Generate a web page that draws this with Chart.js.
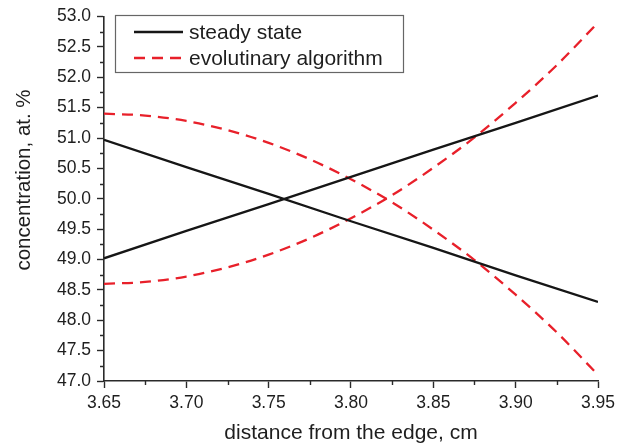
<!DOCTYPE html>
<html>
<head>
<meta charset="utf-8">
<script src="https://cdn.jsdelivr.net/npm/chart.js@4.4.1/dist/chart.umd.min.js"></script>
<style>
  html, body { margin: 0; padding: 0; background: #fff; }
  canvas { display: block; }
</style>
</head>
<body>
<canvas id="concChart" width="631" height="447"></canvas>
<script>
// values
const xSteady = [3.65, 3.70, 3.75, 3.80, 3.85, 3.90, 3.95];
const steadyDown = [50.97, 50.52, 50.08, 49.63, 49.19, 48.74, 48.30];
const steadyUp = [49.02, 49.47, 49.91, 50.36, 50.81, 51.25, 51.70];

const xEvo = [3.65, 3.675, 3.70, 3.725, 3.75, 3.775, 3.80, 3.825, 3.85, 3.875, 3.90, 3.925, 3.95];
const evoDown = [51.40, 51.37, 51.28, 51.13, 50.92, 50.65, 50.32, 49.94, 49.49, 48.99, 48.42, 47.80, 47.10];
const evoUp = [48.60, 48.63, 48.72, 48.87, 49.08, 49.35, 49.68, 50.06, 50.51, 51.01, 51.58, 52.20, 52.90];

const xTicks = [3.65, 3.70, 3.75, 3.80, 3.85, 3.90, 3.95];
const yTicks = [47.0, 47.5, 48.0, 48.5, 49.0, 49.5, 50.0, 50.5, 51.0, 51.5, 52.0, 52.5, 53.0];

const seriesLabels = ['steady state', 'evolutinary algorithm'];

const BLACK = '#161616';
const RED = '#e8202a';
const AXIS = '#2a2a2a';
const TEXT = '#1e1e1e';
const FONT = "'Liberation Sans', Arial, sans-serif";

function pts(xs, ys) {
    return xs.map((x, i) => ({ x: x, y: ys[i] }));
}

// minor ticks halfway between the major ones
const minorTicks = {
    id: 'minorTicks',
    afterDraw(chart) {
        const ctx = chart.ctx;
        const area = chart.chartArea;
        const xs = chart.scales.x, ys = chart.scales.y;
        ctx.save();
        ctx.strokeStyle = AXIS;
        ctx.lineWidth = 1.4;
        ctx.beginPath();
        for (let i = 0; i < xTicks.length - 1; i++) {
            const px = Math.round(xs.getPixelForValue((xTicks[i] + xTicks[i + 1]) / 2)) + 0.5;
            ctx.moveTo(px, area.bottom);
            ctx.lineTo(px, area.bottom + 4);
        }
        for (let i = 0; i < yTicks.length - 1; i++) {
            const py = Math.round(ys.getPixelForValue((yTicks[i] + yTicks[i + 1]) / 2)) + 0.5;
            ctx.moveTo(area.left, py);
            ctx.lineTo(area.left - 4, py);
        }
        ctx.stroke();
        ctx.restore();
    }
};

// rotated y title, sitting a bit above the middle like the original
const yTitle = {
    id: 'yTitle',
    afterDraw(chart) {
        const ctx = chart.ctx;
        ctx.save();
        ctx.translate(24, 180);
        ctx.rotate(-Math.PI / 2);
        ctx.font = '20.5px ' + FONT;
        ctx.fillStyle = TEXT;
        ctx.textAlign = 'center';
        ctx.textBaseline = 'middle';
        ctx.fillText('concentration, at. %', 0, 0);
        ctx.restore();
    }
};

// boxed legend inside the plot, upper left
const boxLegend = {
    id: 'boxLegend',
    afterDraw(chart) {
        const ctx = chart.ctx;
        const ds = chart.data.datasets;
        const entries = [ds[0], ds[2]];
        ctx.save();
        ctx.fillStyle = '#fff';
        ctx.fillRect(115.5, 15.5, 288, 57);
        ctx.strokeStyle = '#666';
        ctx.lineWidth = 1.2;
        ctx.strokeRect(115.5, 15.5, 288, 57);
        ctx.font = '21px ' + FONT;
        ctx.textBaseline = 'middle';
        entries.forEach((d, i) => {
            const y = 32 + i * 26;
            ctx.strokeStyle = d.borderColor;
            ctx.lineWidth = d.borderWidth;
            ctx.setLineDash(d.borderDash || []);
            ctx.beginPath();
            ctx.moveTo(134, y);
            ctx.lineTo(183, y);
            ctx.stroke();
            ctx.setLineDash([]);
            ctx.fillStyle = TEXT;
            ctx.fillText(d.label, 189, y + 1);
        });
        ctx.restore();
    }
};

const lineStyle = { pointRadius: 0, fill: false, borderWidth: 2.3 };

new Chart(document.getElementById('concChart').getContext('2d'), {
    type: 'line',
    data: {
        datasets: [
            Object.assign({ label: seriesLabels[0], data: pts(xSteady, steadyDown), borderColor: BLACK, tension: 0 }, lineStyle),
            Object.assign({ label: seriesLabels[0], data: pts(xSteady, steadyUp), borderColor: BLACK, tension: 0 }, lineStyle),
            Object.assign({ label: seriesLabels[1], data: pts(xEvo, evoDown), borderColor: RED, borderDash: [11, 7], cubicInterpolationMode: 'monotone' }, lineStyle),
            Object.assign({ label: seriesLabels[1], data: pts(xEvo, evoUp), borderColor: RED, borderDash: [11, 7], cubicInterpolationMode: 'monotone' }, lineStyle)
        ]
    },
    options: {
        responsive: false,
        animation: false,
        layout: { padding: { left: 0, right: 33, top: 16, bottom: 0 } },
        plugins: {
            legend: { display: false },
            tooltip: { enabled: false }
        },
        scales: {
            x: {
                type: 'linear',
                min: 3.65,
                max: 3.95,
                afterBuildTicks: function(scale) {
                    scale.ticks = xTicks.map(v => ({ value: v }));
                },
                afterFit: function(scale) { scale.height = 66; },
                border: { display: true, color: AXIS, width: 1.6 },
                grid: { drawOnChartArea: false, drawTicks: true, tickLength: 7, tickColor: AXIS, tickWidth: 1.4 },
                ticks: {
                    autoSkip: false,
                    maxRotation: 0,
                    padding: 5,
                    color: TEXT,
                    font: { family: FONT, size: 17.5 },
                    callback: function(value) { return Number(value).toFixed(2); }
                },
                title: {
                    display: true,
                    text: 'distance from the edge, cm',
                    color: TEXT,
                    font: { family: FONT, size: 21 },
                    padding: { top: 0, bottom: 1 }
                }
            },
            y: {
                type: 'linear',
                min: 47,
                max: 53,
                afterBuildTicks: function(scale) {
                    scale.ticks = yTicks.map(v => ({ value: v }));
                },
                afterFit: function(scale) { scale.width = 104; },
                border: { display: true, color: AXIS, width: 1.6 },
                grid: { drawOnChartArea: false, drawTicks: true, tickLength: 7, tickColor: AXIS, tickWidth: 1.4 },
                ticks: {
                    autoSkip: false,
                    padding: 6,
                    color: TEXT,
                    font: { family: FONT, size: 17.5 },
                    callback: function(value) { return Number(value).toFixed(1); }
                }
            }
        }
    },
    plugins: [minorTicks, yTitle, boxLegend]
});
</script>
</body>
</html>
